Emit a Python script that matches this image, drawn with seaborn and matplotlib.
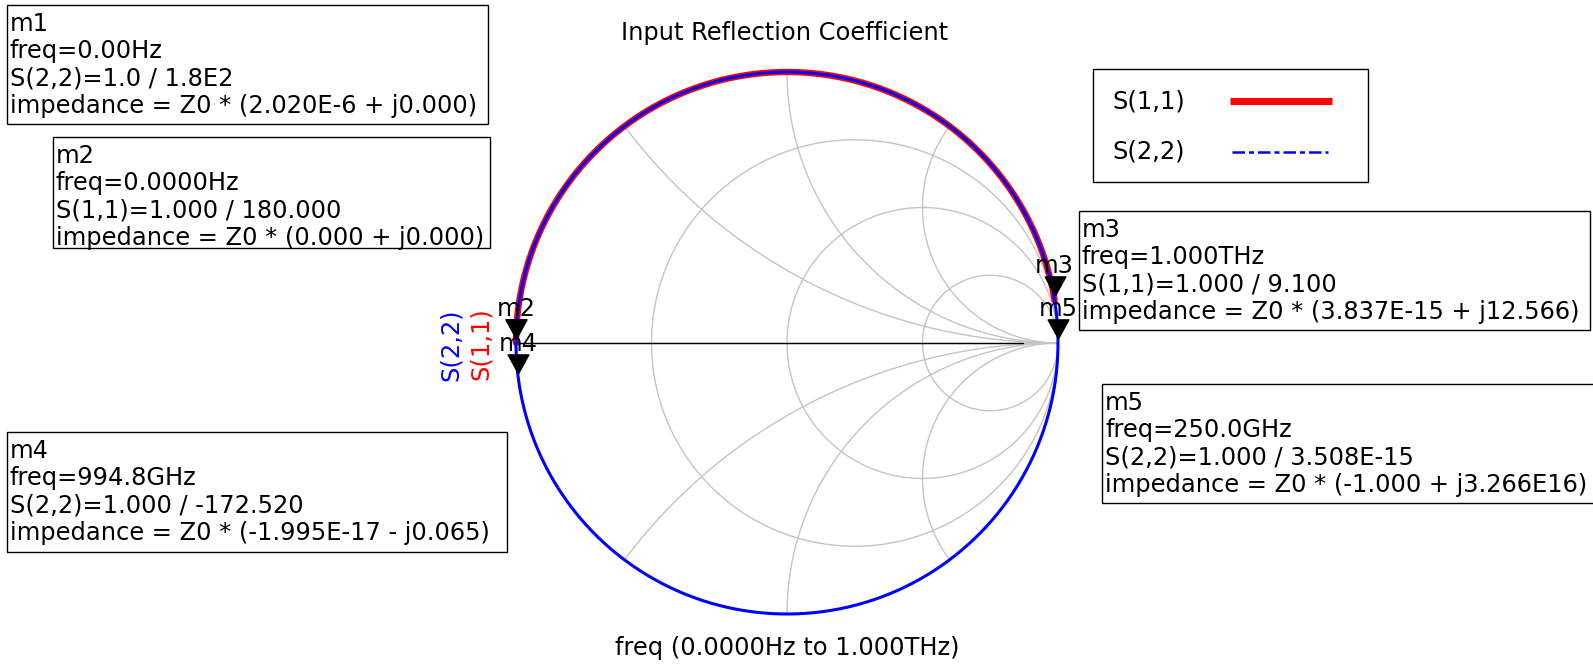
"""
plot.py
=======
Smith chart of the input / output reflection coefficients with ADS-style
marker readouts.  Saves out.png (1593 x 667 px).
"""

import numpy as np
import matplotlib
matplotlib.use("Agg")
import matplotlib.pyplot as plt
import matplotlib.transforms as mtransforms
from matplotlib.patches import Rectangle
import seaborn as sns

# ------------------------------------------
# DATA
# ------------------------------------------

R_CIRCLES = [1 / 3, 1.0, 3.0]          # constant-resistance circles
X_ARCS    = [0.5, 1.0, 2.0]            # constant-reactance arcs (+/-)

# phase of each trace (deg) at its sweep break points, |S| = 1 throughout
S11_PHASE = [180.0, 90.0, 9.1]                    # 0 Hz -> 1 THz
S22_PHASE = [180.0, 90.0, 0.0, -90.0, -172.52, -180.0]
S11_MAG   = 1.0
S22_MAG   = 1.0

MARKER_NAMES  = ["m1", "m2", "m3", "m4", "m5"]
MARKER_PHASE  = [180.0, 180.0, 9.1, -172.52, 3.508e-15]
MARKER_SHOWN  = [False, True, True, True, True]

MARKER_TEXT = {
    "m1": ["m1", "freq=0.00Hz", "S(2,2)=1.0 / 1.8E2",
           "impedance = Z0 * (2.020E-6 + j0.000)"],
    "m2": ["m2", "freq=0.0000Hz", "S(1,1)=1.000 / 180.000",
           "impedance = Z0 * (0.000 + j0.000)"],
    "m3": ["m3", "freq=1.000THz", "S(1,1)=1.000 / 9.100",
           "impedance = Z0 * (3.837E-15 + j12.566)"],
    "m4": ["m4", "freq=994.8GHz", "S(2,2)=1.000 / -172.520",
           "impedance = Z0 * (-1.995E-17 - j0.065)"],
    "m5": ["m5", "freq=250.0GHz", "S(2,2)=1.000 / 3.508E-15",
           "impedance = Z0 * (-1.000 + j3.266E16)"],
}

TITLE  = "Input Reflection Coefficient"
XLABEL = "freq (0.0000Hz to 1.000THz)"

# ------------------------------------------
# LAYOUT (pixels, y downwards)
# ------------------------------------------

W, H = 1593, 667
CX, CY, RAD = 787, 343, 271

BOXES = {               # left, top, right, bottom
    "m1": (7, 5, 488, 124),
    "m2": (53, 137, 490, 248),
    "m3": (1079, 211, 1590, 330),
    "m4": (7, 432, 507, 552),
    "m5": (1102, 384, 1600, 503),
}

FS = 17.4
GRID = "#c4c4c4"
RED, BLUE = "#ff0000", "#0000ff"

sns.set_theme(style="white")
plt.rcParams["font.family"] = ["DejaVu Sans"]
plt.rcParams["text.color"] = "black"

fig = plt.figure(figsize=(W / 100, H / 100), dpi=100)
ax = fig.add_axes([0, 0, 1, 1])
ax.set_xlim(-CX / RAD, (W - CX) / RAD)
ax.set_ylim((CY - H) / RAD, CY / RAD)
ax.axis("off")

# pixel transform for annotations (origin top-left)
pix = mtransforms.Affine2D().scale(1 / W, -1 / H).translate(0, 1) + fig.transFigure

# ------------------------------------------
# SMITH GRID
# ------------------------------------------

t = np.linspace(0, 2 * np.pi, 721)
for r in R_CIRCLES:
    c, rr = r / (1 + r), 1 / (1 + r)
    ax.plot(c + rr * np.cos(t), rr * np.sin(t), color=GRID, lw=1.0, zorder=1)

for x in X_ARCS:
    for s in (1, -1):
        xc, yc, rr = 1.0, s / x, 1 / x
        gx, gy = xc + rr * np.cos(t), yc + rr * np.sin(t)
        out = gx ** 2 + gy ** 2 > 1.0001
        gx, gy = gx.copy(), gy.copy()
        gx[out], gy[out] = np.nan, np.nan
        ax.plot(gx, gy, color=GRID, lw=1.0, zorder=1)

ax.plot([-1, 1], [0, 0], color=GRID, lw=1.0, zorder=1)
ax.plot([-1, 0.87], [0, 0], color="black", lw=1.0, zorder=2)

# ------------------------------------------
# TRACES
# ------------------------------------------

def arc_points(phases, mag):
    pts = [np.linspace(a, b, 200) for a, b in zip(phases[:-1], phases[1:])]
    ph = np.deg2rad(np.concatenate(pts))
    return mag * np.cos(ph), mag * np.sin(ph)

s11_x, s11_y = arc_points(S11_PHASE, S11_MAG)
s22_x, s22_y = arc_points(S22_PHASE, S22_MAG)

sns.lineplot(x=s11_x, y=s11_y, sort=False, estimator=None, color=RED,
             lw=4.6, ax=ax, zorder=3)
sns.lineplot(x=s22_x, y=s22_y, sort=False, estimator=None, color=BLUE,
             lw=2.2, ax=ax, zorder=4)

# ------------------------------------------
# MARKERS
# ------------------------------------------

tri = [(0, 0.25), (-0.55, 1.25), (0.55, 1.25), (0, 0.25)]
for name, ph, shown in zip(MARKER_NAMES, MARKER_PHASE, MARKER_SHOWN):
    gx, gy = np.cos(np.deg2rad(ph)), np.sin(np.deg2rad(ph))
    ax.plot([gx], [gy], marker=tri, ms=34, color="black", mec="black",
            ls="none", zorder=6)
    if shown:
        ax.annotate(name, (gx, gy), xytext=(0, 19.5), textcoords="offset points",
                    ha="center", va="baseline", fontsize=FS, zorder=7)

# rotated trace labels at the start of the sweep
ax.text(451, 345, "S(2,2)", transform=pix, rotation=90, color=BLUE,
        ha="center", va="center", fontsize=FS)
ax.text(481, 344, "S(1,1)", transform=pix, rotation=90, color=RED,
        ha="center", va="center", fontsize=FS)

# ------------------------------------------
# MARKER READOUT BOXES
# ------------------------------------------

for name, (l, tp, r, b) in BOXES.items():
    ax.add_patch(Rectangle((l, tp), r - l, b - tp, transform=pix, fill=False,
                           ec="black", lw=1.0, clip_on=False, zorder=8))
    for i, line in enumerate(MARKER_TEXT[name]):
        ax.text(l + 3, tp + 26 + 27.3 * i, line, transform=pix, ha="left",
                va="baseline", fontsize=FS, zorder=9)

# ------------------------------------------
# LEGEND
# ------------------------------------------

ax.add_patch(Rectangle((1093, 69), 275, 113, transform=pix, fill=False,
                       ec="black", lw=1.0, zorder=8))
ax.text(1112, 101, "S(1,1)", transform=pix, ha="left", va="center", fontsize=FS)
ax.text(1112, 152, "S(2,2)", transform=pix, ha="left", va="center", fontsize=FS)
ax.plot([1230, 1332], [101, 101], transform=pix, color=RED, lw=5.0,
        solid_capstyle="butt")
ax.plot([1232, 1328], [152, 152], transform=pix, color=BLUE, lw=1.8,
        ls=(0, (5, 1.6, 2, 1.6)))

# ------------------------------------------
# TITLES
# ------------------------------------------

ax.text(785, 33, TITLE, transform=pix, ha="center", va="center", fontsize=FS)
ax.text(787, 648, XLABEL, transform=pix, ha="center", va="center", fontsize=FS)

fig.savefig("out.png", dpi=100)
plt.close(fig)
